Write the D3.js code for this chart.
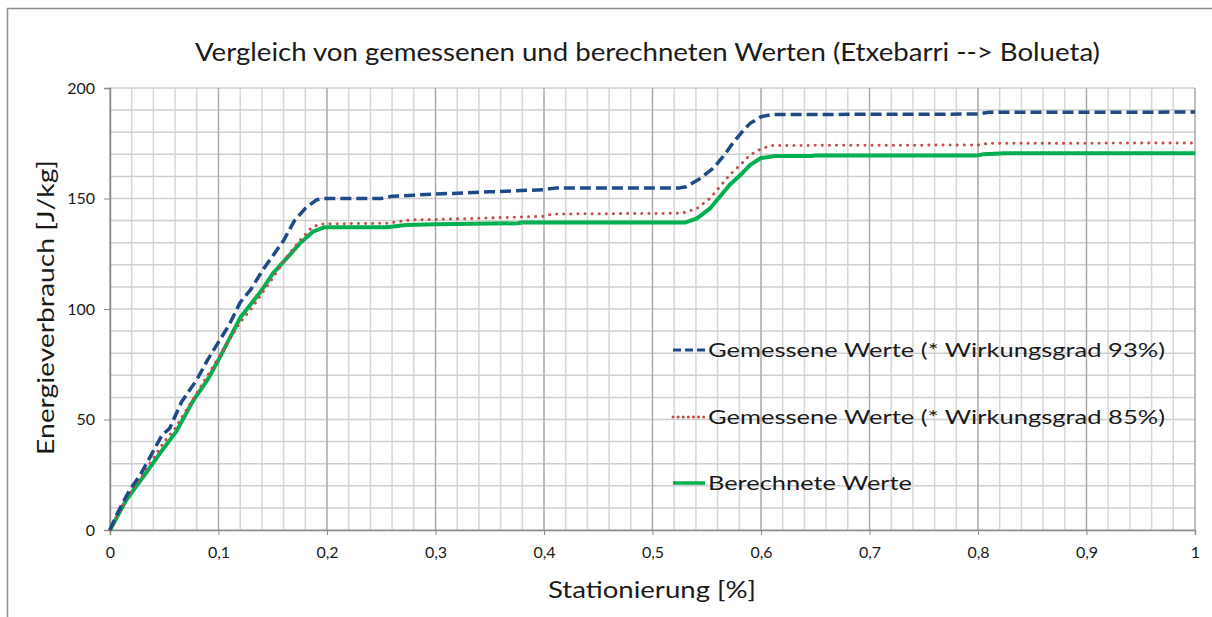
<!DOCTYPE html>
<html>
<head>
<meta charset="utf-8">
<script src="https://cdn.jsdelivr.net/npm/d3@7"></script>
<style>
  html, body { margin: 0; padding: 0; background: #fff; }
  svg { display: block; }
  text { font-family: Lato, "Open Sans", sans-serif; fill: #1a1a1a; }
</style>
</head>
<body>
<svg id="chart" width="1212" height="617"></svg>
<script>
// Stationierung (fraction of route) and energy use [J/kg]
const measured93X = [0,0.006,0.018,0.028,0.038,0.048,0.055,0.066,0.08,0.09,0.1,0.11,0.12,0.13,0.14,0.15,0.16,0.17,0.18,0.19,0.196,0.25,0.26,0.28,0.3,0.35,0.4,0.41,0.525,0.531,0.544,0.556,0.565,0.574,0.584,0.59,0.6,0.61,0.8,0.81,1];
const measured93Y = [0,6.8,18,25,34,43,46,58,68,77,85,93,103,109,117,124,131,140,145.5,149.3,150,150,151,151.5,152,153,154,154.7,154.8,155.3,159.1,163.7,168.9,175,181,184,187,188,188.2,189,189.1];

const measured85X = [0,0.006,0.018,0.028,0.038,0.05,0.06,0.07,0.08,0.09,0.1,0.11,0.12,0.13,0.14,0.15,0.163,0.175,0.186,0.194,0.255,0.276,0.3,0.35,0.4,0.408,0.527,0.541,0.553,0.562,0.571,0.581,0.59,0.6,0.61,0.8,0.81,1];
const measured85Y = [0,6,16.5,23,31,40,46,54,62,70,78,86,94,100,107,114,123.7,131,137,138.5,138.8,140.3,140.5,141.2,142,143,143.3,145.5,150.1,155.3,160.6,165.2,169.7,172.5,174,174.2,175,175.1];

const calculatedX = [0,0.015,0.032,0.046,0.061,0.077,0.09,0.1,0.12,0.14,0.15,0.163,0.175,0.187,0.198,0.255,0.273,0.3,0.376,0.38,0.53,0.541,0.553,0.562,0.571,0.581,0.59,0.6,0.613,0.647,0.65,0.8,0.805,0.825,1];
const calculatedY = [0,13.6,25,34.7,44.5,58.8,68,77,96,108.6,116,123,129.7,135,137,137,138,138.3,138.8,139.1,139.1,141,145.5,150.8,156.1,160.6,165.2,168.3,169.2,169.2,169.5,169.5,170,170.5,170.5];

const seriesNames = ["Gemessene Werte (* Wirkungsgrad 93%)", "Gemessene Werte (* Wirkungsgrad 85%)", "Berechnete Werte"];
const xTicks = [0,0.1,0.2,0.3,0.4,0.5,0.6,0.7,0.8,0.9,1];
const yTicks = [0,50,100,150,200];
const titleText = "Vergleich von gemessenen und berechneten Werten (Etxebarri --> Bolueta)";
const xTitle = "Stationierung [%]";
const yTitle = "Energieverbrauch [J/kg]";

const svg = d3.select("#chart");
const plot = { left: 110, right: 1195, top: 88, bottom: 530 };

const x = d3.scaleLinear().domain([0, 1]).range([plot.left, plot.right]);
const y = d3.scaleLinear().domain([0, 200]).range([plot.bottom, plot.top]);

// outer frame (top and left edges visible)
svg.append("path")
  .attr("d", "M7.5,617 L7.5,8.5 L1212,8.5")
  .attr("fill", "none").attr("stroke", "#8c8c8c").attr("stroke-width", 1.5);

// minor grid
const grid = svg.append("g");
grid.selectAll("line.vminor").data(d3.range(0, 1.0001, 0.02)).join("line")
  .attr("x1", d => x(d)).attr("x2", d => x(d))
  .attr("y1", plot.top).attr("y2", plot.bottom)
  .attr("stroke", "#d6d6d6").attr("stroke-width", 1.5);
grid.selectAll("line.hminor").data(d3.range(0, 200.001, 10)).join("line")
  .attr("x1", plot.left).attr("x2", plot.right)
  .attr("y1", d => y(d)).attr("y2", d => y(d))
  .attr("stroke", "#cfcfcf").attr("stroke-width", 1.5);
// major grid
grid.selectAll("line.vmajor").data(xTicks).join("line")
  .attr("x1", d => x(d)).attr("x2", d => x(d))
  .attr("y1", plot.top).attr("y2", plot.bottom)
  .attr("stroke", "#a6a6a6").attr("stroke-width", 1.2);

// axes
const xAxis = d3.axisBottom(x).tickValues(xTicks).tickSize(5).tickPadding(12)
  .tickFormat(d => d === 0 ? "0" : d === 1 ? "1" : d3.format(".1f")(d).replace(".", ","));
const gx = svg.append("g").attr("transform", `translate(0,${plot.bottom})`).call(xAxis);
gx.select(".domain").attr("stroke", "#8c8c8c").attr("stroke-width", 1.5);
gx.selectAll(".tick line").attr("stroke", "#8c8c8c");
gx.selectAll(".tick text").style("font-size", "16px").attr("fill", "#1a1a1a");

const yAxis = d3.axisLeft(y).tickValues(yTicks).tickSize(6).tickPadding(9);
const gy = svg.append("g").attr("transform", `translate(${plot.left},0)`).call(yAxis);
gy.select(".domain").attr("stroke", "#8c8c8c").attr("stroke-width", 1.5);
gy.selectAll(".tick line").attr("stroke", "#8c8c8c");
gy.selectAll(".tick text").style("font-size", "16px").attr("fill", "#1a1a1a");

// series lines
const line = d3.line().x(d => x(d[0])).y(d => y(d[1]));
const series = [
  { name: seriesNames[0], pts: d3.zip(measured93X, measured93Y), color: "#1f4a86", width: 3.5, dash: "11,5", cap: "butt", legendLen: 457 },
  { name: seriesNames[1], pts: d3.zip(measured85X, measured85Y), color: "#c0504d", width: 3, dash: "0.1,7", cap: "round", legendLen: 457 },
  { name: seriesNames[2], pts: d3.zip(calculatedX, calculatedY), color: "#00b050", width: 4, dash: null, cap: "butt", legendLen: 204 }
];
// draw green first, then red, then blue on top
[2, 1, 0].forEach(i => {
  const s = series[i];
  svg.append("path").datum(s.pts)
    .attr("d", line)
    .attr("fill", "none")
    .attr("stroke", s.color)
    .attr("stroke-width", s.width)
    .attr("stroke-linecap", s.cap)
    .attr("stroke-linejoin", "round")
    .attr("stroke-dasharray", s.dash);
});

// legend
const legendRows = [350, 417, 483];
const lg = svg.append("g");
series.forEach((s, i) => {
  lg.append("line")
    .attr("x1", 673).attr("x2", 705)
    .attr("y1", legendRows[i]).attr("y2", legendRows[i])
    .attr("stroke", s.color)
    .attr("stroke-width", s.width === 4 ? 3.5 : 3)
    .attr("stroke-linecap", s.cap)
    .attr("stroke-dasharray", s.dash === "11,5" ? "8,4" : s.dash === "0.1,7" ? "0.1,5" : null);
  lg.append("text")
    .attr("x", 708).attr("y", legendRows[i] + 7)
    .attr("textLength", s.legendLen)
    .attr("lengthAdjust", "spacingAndGlyphs")
    .style("font-size", "20px")
    .text(s.name);
});

// titles
svg.append("text")
  .attr("x", 195).attr("y", 61)
  .attr("textLength", 905)
  .attr("lengthAdjust", "spacingAndGlyphs")
  .style("font-size", "25px")
  .text(titleText);

svg.append("text")
  .attr("x", 548).attr("y", 598)
  .attr("textLength", 208)
  .attr("lengthAdjust", "spacingAndGlyphs")
  .style("font-size", "24px")
  .text(xTitle);

svg.append("text")
  .attr("transform", "translate(54,455) rotate(-90)")
  .attr("textLength", 295)
  .attr("lengthAdjust", "spacingAndGlyphs")
  .style("font-size", "24px")
  .text(yTitle);
</script>
</body>
</html>
